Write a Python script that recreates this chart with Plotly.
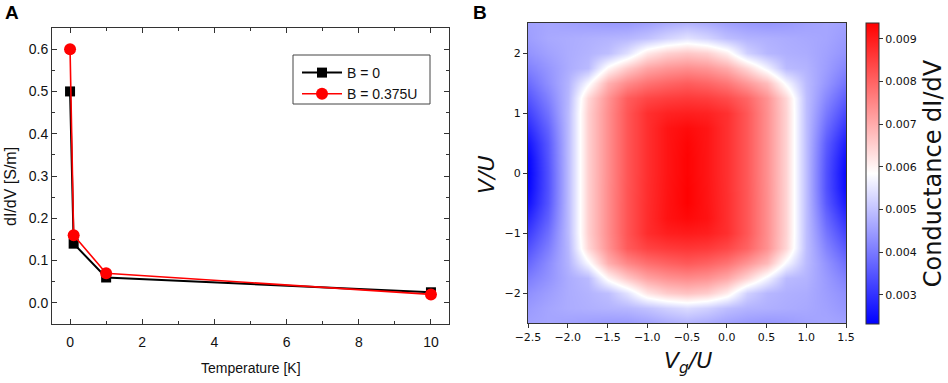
import plotly.graph_objects as go
import numpy as np

# ---------------- Panel A data ----------------
temperature = [0.0, 0.1, 1.0, 10.0]
didv_b0 = [0.50, 0.14, 0.06, 0.025]
didv_b0375 = [0.60, 0.16, 0.07, 0.020]
series_names = ["B = 0", "B = 0.375U"]

# ---------------- Panel B data (conductance, units of 1e-3, read on a coarse grid) ----------------
vg_values = [-2.5, -2.25, -2.0, -1.75, -1.5, -1.25, -1.0, -0.75, -0.5, -0.25, 0.0, 0.25, 0.5, 0.75, 1.0, 1.25, 1.5]
v_values = [-2.5, -2.25, -2.0, -1.75, -1.5, -1.25, -1.0, -0.75, -0.5, -0.25, 0.0,
            0.25, 0.5, 0.75, 1.0, 1.25, 1.5, 1.75, 2.0, 2.25, 2.5]
conductance_milli = [
    [4.55, 4.6, 4.55, 4.5, 4.45, 4.45, 4.55, 4.7, 4.8, 4.7, 4.55, 4.45, 4.4, 4.45, 4.55, 4.6, 4.55],    # V=-2.5
    [4.45, 4.6, 4.7, 4.75, 4.8, 4.85, 5.0, 5.2, 5.35, 5.2, 4.95, 4.8, 4.75, 4.7, 4.65, 4.55, 4.4],     # -2.25
    [4.3, 4.5, 4.7, 4.8, 4.95, 5.45, 6.2, 6.55, 6.68, 6.55, 6.1, 5.2, 4.85, 4.75, 4.7, 4.5, 4.3],      # -2.0
    [4.05, 4.35, 4.7, 4.9, 5.98, 6.62, 7.12, 7.35, 7.45, 7.35, 7.05, 6.45, 5.7, 4.9, 4.8, 4.45, 4.1],  # -1.75
    [3.75, 4.25, 4.8, 5.75, 6.95, 7.5, 7.84, 8.02, 8.14, 8.02, 7.78, 7.32, 6.8, 5.75, 4.9, 4.35, 3.85],  # -1.5
    [3.45, 4.05, 4.85, 6.4, 7.36, 8.12, 8.45, 8.57, 8.63, 8.57, 8.38, 8.0, 7.36, 6.4, 4.95, 4.15, 3.55],  # -1.25
    [3.15, 3.85, 4.9, 6.5, 7.42, 8.2, 8.75, 8.95, 9.0, 8.95, 8.72, 8.17, 7.4, 6.45, 4.95, 3.95, 3.25],   # -1.0
    [2.85, 3.65, 4.9, 6.5, 7.42, 8.2, 8.75, 9.12, 9.25, 9.12, 8.72, 8.17, 7.4, 6.45, 4.95, 3.75, 2.95],   # -0.75
    [2.55, 3.5, 4.9, 6.5, 7.42, 8.2, 8.74, 9.11, 9.35, 9.1, 8.72, 8.17, 7.4, 6.45, 4.95, 3.55, 2.65],    # -0.5
    [2.4, 3.45, 4.9, 6.5, 7.42, 8.19, 8.73, 9.1, 9.35, 9.09, 8.71, 8.16, 7.39, 6.45, 4.95, 3.45, 2.45],   # -0.25
    [2.35, 3.45, 4.9, 6.5, 7.41, 8.18, 8.72, 9.09, 9.33, 9.08, 8.7, 8.15, 7.38, 6.45, 4.95, 3.45, 2.4],   # 0
    [2.4, 3.5, 4.9, 6.5, 7.41, 8.18, 8.72, 9.09, 9.33, 9.08, 8.7, 8.15, 7.38, 6.45, 4.95, 3.5, 2.5],     # 0.25
    [2.6, 3.55, 4.9, 6.5, 7.41, 8.18, 8.72, 9.09, 9.3, 9.08, 8.7, 8.15, 7.38, 6.45, 4.95, 3.6, 2.7],     # 0.5
    [2.9, 3.7, 4.9, 6.5, 7.41, 8.18, 8.72, 9.09, 9.22, 9.08, 8.7, 8.15, 7.38, 6.45, 4.95, 3.8, 3.0],     # 0.75
    [3.2, 3.9, 4.9, 6.5, 7.41, 8.18, 8.72, 8.9, 8.95, 8.9, 8.7, 8.15, 7.38, 6.45, 4.95, 4.0, 3.3],       # 1.0
    [3.5, 4.1, 4.85, 6.4, 7.34, 8.09, 8.4, 8.52, 8.58, 8.52, 8.33, 7.97, 7.34, 6.4, 4.95, 4.2, 3.6],      # 1.25
    [3.8, 4.3, 4.8, 5.75, 6.92, 7.45, 7.79, 7.97, 8.09, 7.97, 7.73, 7.27, 6.76, 5.75, 4.9, 4.4, 3.9],     # 1.5
    [4.1, 4.4, 4.7, 4.9, 5.95, 6.58, 7.08, 7.3, 7.41, 7.3, 7.0, 6.4, 5.67, 4.9, 4.8, 4.5, 4.15],         # 1.75
    [4.35, 4.55, 4.7, 4.8, 4.95, 5.4, 6.15, 6.49, 6.62, 6.49, 6.05, 5.2, 4.85, 4.75, 4.7, 4.55, 4.35],    # 2.0
    [4.5, 4.65, 4.7, 4.75, 4.8, 4.85, 5.0, 5.25, 5.45, 5.25, 4.95, 4.8, 4.75, 4.7, 4.65, 4.6, 4.45],      # 2.25
    [4.55, 4.6, 4.55, 4.5, 4.45, 4.45, 4.55, 4.7, 4.8, 4.7, 4.55, 4.45, 4.4, 4.45, 4.55, 4.6, 4.55],      # 2.5
]
color_min = 0.00232
color_max = 0.00937
cbar_ticks = [0.003, 0.004, 0.005, 0.006, 0.007, 0.008, 0.009]
x_ticks_a = [0, 2, 4, 6, 8, 10]
y_ticks_a = [0.0, 0.1, 0.2, 0.3, 0.4, 0.5, 0.6]
x_ticks_b = [-2.5, -2.0, -1.5, -1.0, -0.5, 0.0, 0.5, 1.0, 1.5]
y_ticks_b = [-2, -1, 0, 1, 2]

conductance = (np.array(conductance_milli) * 1e-3).tolist()

W, H = 948, 383
def px_x(p):
    return p / W
def px_y(p):
    return 1 - p / H

fig = go.Figure()

arial = "Liberation Sans, Arial, sans-serif"
dejavu = "DejaVu Sans, sans-serif"
ink = "#111"

fig.add_trace(go.Scatter(
    x=temperature, y=didv_b0, mode="lines+markers", name=series_names[0],
    line=dict(color="black", width=2),
    marker=dict(symbol="square", size=10, color="black"),
    xaxis="x", yaxis="y",
))
fig.add_trace(go.Scatter(
    x=temperature, y=didv_b0375, mode="lines+markers", name=series_names[1],
    line=dict(color="#ff0000", width=1.6),
    marker=dict(symbol="circle", size=12, color="#ff0000"),
    xaxis="x", yaxis="y",
))

fig.add_trace(go.Heatmap(
    x=vg_values, y=v_values, z=conductance, zsmooth="best",
    zmin=color_min, zmax=color_max,
    colorscale=[[0, "rgb(0,0,255)"], [0.5, "rgb(255,255,255)"], [1, "rgb(255,0,0)"]],
    xaxis="x2", yaxis="y2", showlegend=False,
    colorbar=dict(
        x=px_x(866), xanchor="left", xref="paper", xpad=0,
        y=px_y(23), yanchor="top", yref="paper", ypad=0,
        len=(324 - 23) / H, lenmode="fraction",
        thickness=13, thicknessmode="pixels",
        outlinecolor="#333", outlinewidth=1,
        tickvals=cbar_ticks, tickformat=".3f",
        ticks="outside", ticklen=4, tickcolor="#333",
        tickfont=dict(family=dejavu, size=11, color=ink),
        title=dict(text="Conductance dI/dV", side="right",
                   font=dict(family=dejavu, size=24, color=ink)),
    ),
))

axis_line = "#333"
fig.update_layout(
    template="none",
    width=W, height=H,
    margin=dict(l=0, r=0, t=0, b=0, autoexpand=False),
    paper_bgcolor="white", plot_bgcolor="white",
    showlegend=True,
    legend=dict(
        x=px_x(297), y=px_y(57), xanchor="left", yanchor="top",
        borderwidth=0, bgcolor="rgba(0,0,0,0)",
        font=dict(family=arial, size=14, color=ink),
        itemwidth=40, tracegroupgap=2,
    ),
    xaxis=dict(
        domain=[px_x(52), px_x(449)], range=[-0.5, 10.5], automargin=False,
        tickvals=x_ticks_a, ticks="inside", ticklen=5, tickcolor=axis_line,
        minor=dict(dtick=1, tick0=0, ticks="inside", ticklen=3, tickcolor=axis_line, showgrid=False),
        showline=True, linecolor=axis_line, linewidth=1, mirror="allticks",
        showgrid=False, zeroline=False, ticklabelstandoff=5,
        tickfont=dict(family=arial, size=14, color=ink),
        anchor="y",
    ),
    yaxis=dict(
        domain=[px_y(324), px_y(28)], range=[-0.05, 0.65], automargin=False,
        tickvals=y_ticks_a, tickformat=".1f", ticks="inside", ticklen=5, tickcolor=axis_line,
        minor=dict(dtick=0.05, tick0=0, ticks="inside", ticklen=3, tickcolor=axis_line, showgrid=False),
        showline=True, linecolor=axis_line, linewidth=1, mirror="allticks",
        showgrid=False, zeroline=False,
        tickfont=dict(family=arial, size=14, color=ink),
        anchor="x",
    ),
    xaxis2=dict(
        domain=[px_x(528), px_x(846)], range=[-2.5, 1.5], automargin=False,
        tickvals=x_ticks_b, tickformat=".1f", ticks="outside", ticklen=4, tickcolor=axis_line,
        showline=True, linecolor=axis_line, linewidth=1, mirror=True,
        showgrid=False, zeroline=False,
        tickfont=dict(family=dejavu, size=11, color=ink),
        anchor="y2",
    ),
    yaxis2=dict(
        domain=[px_y(323), px_y(23)], range=[-2.5, 2.5], automargin=False,
        tickvals=y_ticks_b, ticks="outside", ticklen=4, tickcolor=axis_line,
        showline=True, linecolor=axis_line, linewidth=1, mirror=True,
        showgrid=False, zeroline=False,
        tickfont=dict(family=dejavu, size=11, color=ink),
        anchor="x2",
    ),
    shapes=[
        dict(type="rect", xref="paper", yref="paper",
             x0=px_x(293), x1=px_x(430), y0=px_y(104), y1=px_y(55),
             line=dict(color="#444", width=1), fillcolor="white", layer="below"),
    ],
)

annotations = [
    dict(text="<b>A</b>", x=px_x(3), y=px_y(12), xanchor="left", yanchor="middle",
         font=dict(family=arial, size=19, color="black")),
    dict(text="<b>B</b>", x=px_x(471), y=px_y(12), xanchor="left", yanchor="middle",
         font=dict(family=arial, size=19, color="black")),
    dict(text="Temperature [K]", x=px_x(251), y=px_y(368), xanchor="center", yanchor="middle",
         font=dict(family=arial, size=14, color=ink)),
    dict(text="dI/dV [S/m]", x=px_x(10), y=px_y(187), xanchor="center", yanchor="middle",
         textangle=-90, font=dict(family=arial, size=16, color=ink)),
    dict(text="<i>V</i><sub><i>g</i></sub><i>/U</i>", x=px_x(688), y=px_y(362), xanchor="center", yanchor="middle",
         font=dict(family=dejavu, size=22, color=ink)),
    dict(text="<i>V/U</i>", x=px_x(486), y=px_y(174), xanchor="center", yanchor="middle",
         textangle=-90, font=dict(family=dejavu, size=22, color=ink)),
]
for a in annotations:
    a.update(xref="paper", yref="paper", showarrow=False)
fig.update_layout(annotations=annotations)

fig.write_html(
    "out.html",
    config={"displayModeBar": False},
    post_script="document.body.style.margin='0px';document.body.style.overflow='hidden';",
)
